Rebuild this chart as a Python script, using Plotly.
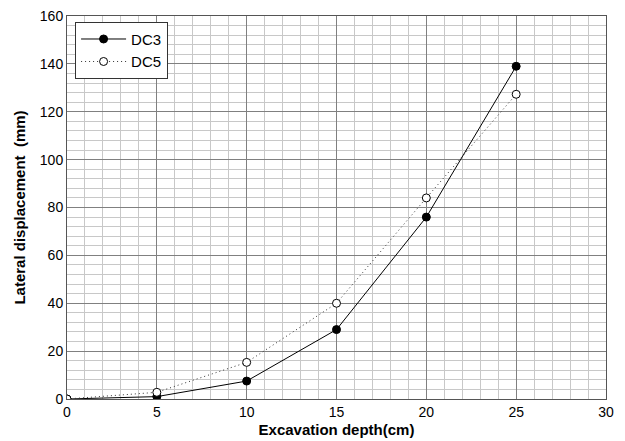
import plotly.graph_objects as go

depth = [0, 5, 10, 15, 20, 25]
dc3 = [0, 1.0, 7.5, 29, 76, 139]
dc5 = [0, 2.8, 15.3, 40, 84, 127.3]
x_ticks = [0, 5, 10, 15, 20, 25, 30]
y_ticks = [0, 20, 40, 60, 80, 100, 120, 140, 160]

fig = go.Figure()
fig.add_trace(go.Scatter(x=depth, y=dc3, name="DC3", mode="lines+markers",
                         line=dict(color="black", width=1),
                         marker=dict(symbol="circle", size=8, color="black",
                                     line=dict(color="black", width=1))))
fig.add_trace(go.Scatter(x=depth, y=dc5, name="DC5", mode="lines+markers",
                         line=dict(color="#333", width=1, dash="1px,3px"),
                         marker=dict(symbol="circle", size=8, color="white",
                                     line=dict(color="black", width=1))))

fam = "Liberation Sans, Arial, sans-serif"
fig.update_layout(
    width=617, height=433,
    margin=dict(l=59, r=19, t=8, b=42),
    paper_bgcolor="white", plot_bgcolor="white",
    font=dict(family=fam, size=14, color="black"),
    showlegend=True,
    legend=dict(x=0.015, y=0.985, xanchor="left", yanchor="top",
                bordercolor="#333", borderwidth=1, bgcolor="white",
                font=dict(family=fam, size=15),
                tracegroupgap=0, itemwidth=45),
)
fig.update_xaxes(
    range=[0, 30], tickvals=x_ticks, ticktext=[str(v) for v in x_ticks],
    showgrid=True, gridcolor="#808080", gridwidth=1,
    minor=dict(dtick=1, showgrid=True, gridcolor="#c8c8c8", gridwidth=1),
    showline=True, linecolor="#555", linewidth=1, mirror=True,
    zeroline=False, ticks="", ticklen=0, automargin=False,
    ticklabeloverflow="allow",
    tickfont=dict(size=14),
    title=dict(text="<b>Excavation depth(cm)</b>", standoff=5,
               font=dict(size=15, family=fam)),
)
fig.update_yaxes(
    range=[0, 160], tickvals=y_ticks, ticktext=[str(v) for v in y_ticks],
    showgrid=True, gridcolor="#808080", gridwidth=1,
    minor=dict(dtick=4, showgrid=True, gridcolor="#c8c8c8", gridwidth=1),
    showline=True, linecolor="#555", linewidth=1, mirror=True,
    zeroline=False, ticks="", ticklen=0, automargin=False,
    ticklabeloverflow="allow",
    tickfont=dict(size=14),
    title=dict(text="<b>Lateral displacement  (mm)</b>", standoff=10,
               font=dict(size=15, family=fam)),
)
fig.write_html("out.html")
